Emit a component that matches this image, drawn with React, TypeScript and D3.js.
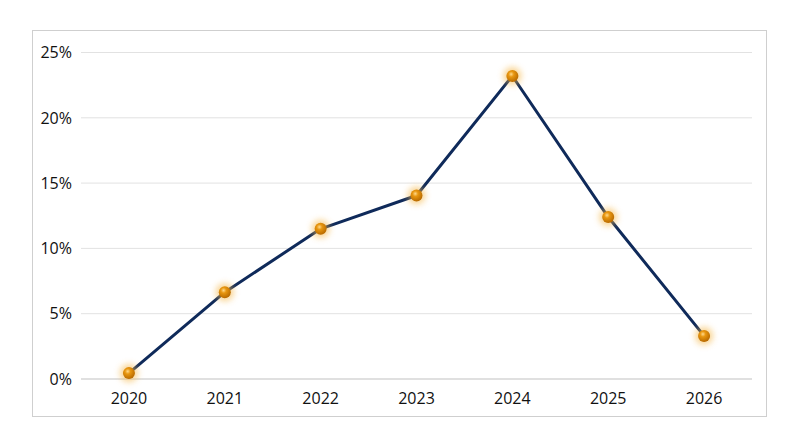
import React from "react";
import * as d3 from "d3";

const years = ["2020", "2021", "2022", "2023", "2024", "2025", "2026"];
const values = [0.45, 6.65, 11.5, 14.05, 23.2, 12.4, 3.3];
const yTicks = [0, 5, 10, 15, 20, 25];

export default function App() {
  const W = 800, H = 447;
  const left = 81, right = 752, top = 52.5, bottom = 379;
  const x = d3.scaleBand<string>().domain(years).range([left, right]);
  const y = d3.scaleLinear().domain([0, 25]).range([bottom, top]);
  const cx = (d: string) => (x(d) as number) + x.bandwidth() / 2;
  const line = d3.line<number>().x((_, i) => cx(years[i])).y((v) => y(v));
  const font = "'Open Sans', 'Noto Sans', sans-serif";
  return (
    <svg width={W} height={H} style={{ position: "absolute", left: 0, top: 0 }}>
      <defs>
        <radialGradient id="ball" cx="0.4" cy="0.35" r="0.65">
          <stop offset="0" stopColor="#ffd98a" />
          <stop offset="0.35" stopColor="#e8960f" />
          <stop offset="1" stopColor="#b86a00" />
        </radialGradient>
        <filter id="glow" x="-1" y="-1" width="3" height="3">
          <feGaussianBlur stdDeviation="3" />
        </filter>
      </defs>
      <rect x={0} y={0} width={W} height={H} fill="#fff" />
      <rect x={32.5} y={30.5} width={734} height={386} fill="#fff" stroke="#cfcfcf" strokeWidth={1} />
      {yTicks.map((t) => (
        <g key={t}>
          <line x1={left} x2={right} y1={y(t)} y2={y(t)} stroke={t === 0 ? "#d6d6d6" : "#e2e2e2"} strokeWidth={t === 0 ? 1.5 : 1} />
          <text x={72} y={y(t)} dy="0.36em" textAnchor="end" fontFamily={font} fontSize={16} fill="#111">
            {t}%
          </text>
        </g>
      ))}
      {years.map((yr) => (
        <text key={yr} x={cx(yr)} y={398} dy="0.36em" textAnchor="middle" fontFamily={font} fontSize={16} fill="#111">
          {yr}
        </text>
      ))}
      <path d={line(values) || ""} fill="none" stroke="#0f2a5a" strokeWidth={3} strokeLinejoin="round" />
      {values.map((v, i) => (
        <g key={i}>
          <circle cx={cx(years[i])} cy={y(v)} r={9} fill="#f5b74a" opacity={0.6} filter="url(#glow)" />
          <circle cx={cx(years[i])} cy={y(v)} r={6} fill="url(#ball)" />
        </g>
      ))}
    </svg>
  );
}
